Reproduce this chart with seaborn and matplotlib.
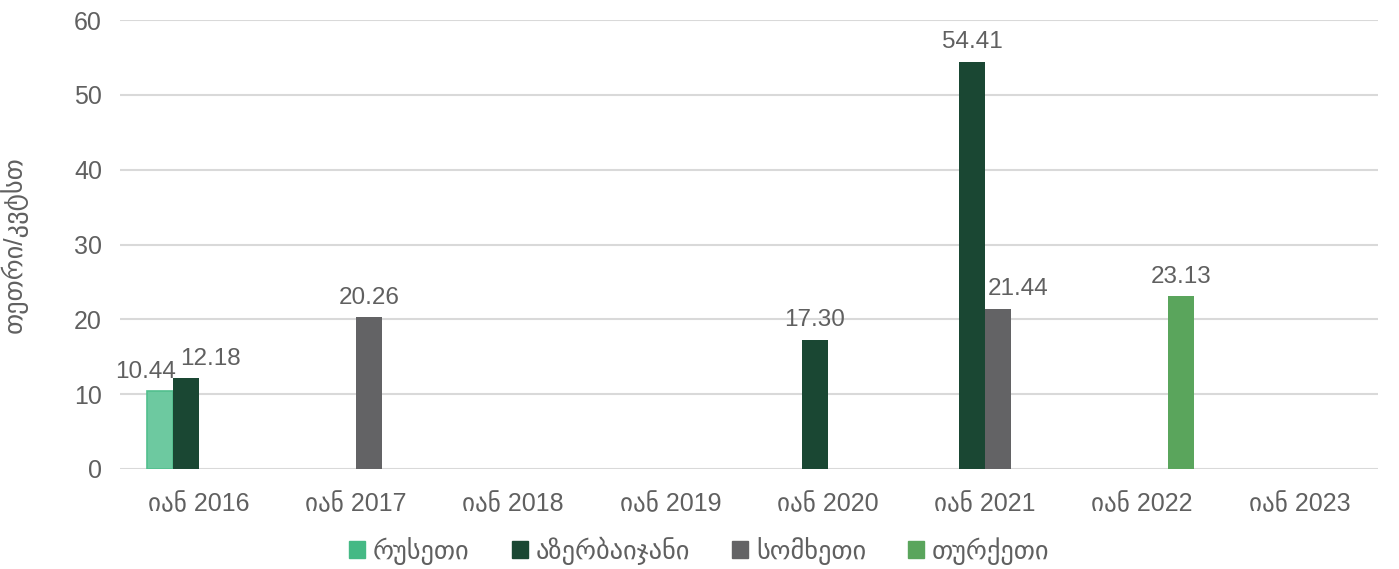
import matplotlib
matplotlib.use("Agg")
import matplotlib.pyplot as plt
import seaborn as sns
import numpy as np
import pandas as pd

categories = ["იან 2016", "იან 2017", "იან 2018", "იან 2019",
              "იან 2020", "იან 2021", "იან 2022", "იან 2023"]
series_names = ["რუსეთი", "აზერბაიჯანი", "სომხეთი", "თურქეთი"]
russia = [10.44, np.nan, np.nan, np.nan, np.nan, np.nan, np.nan, np.nan]
azerbaijan = [12.18, np.nan, np.nan, np.nan, 17.30, 54.41, np.nan, np.nan]
armenia = [np.nan, 20.26, np.nan, np.nan, np.nan, 21.44, np.nan, np.nan]
turkey = [np.nan, np.nan, np.nan, np.nan, np.nan, np.nan, 23.13, np.nan]
y_ticks = [0, 10, 20, 30, 40, 50, 60]
y_label = "თეთრი/კვტსთ"

colors = ["#6dc9a0", "#1a4733", "#636365", "#5aa55c"]
legend_colors = ["#45b985", "#1a4733", "#636365", "#5aa55c"]

sns.set_theme(style="white")
plt.rcParams["font.family"] = ["Liberation Sans", "DejaVu Sans"]

rows = []
for name, vals in zip(series_names, [russia, azerbaijan, armenia, turkey]):
    for cat, v in zip(categories, vals):
        rows.append({"month": cat, "country": name, "value": v})
df = pd.DataFrame(rows)

fig = plt.figure(figsize=(13.99, 5.69), dpi=100)
ax = fig.add_axes([120 / 1399, 100 / 569, 1258 / 1399, 449 / 569])

sns.barplot(data=df.fillna(0), x="month", y="value", hue="country",
            order=categories, hue_order=series_names, palette=colors,
            width=0.66, dodge=True, saturation=1, errorbar=None,
            linewidth=0, ax=ax, legend=False)

text_color = "#606060"
label_offsets = {(0, 0): -14, (1, 0): 25, (2, 5): 20}
for si, cont in enumerate(ax.containers):
    vals = [russia, azerbaijan, armenia, turkey][si]
    for ci, patch in enumerate(cont.patches):
        v = vals[ci]
        if np.isnan(v):
            patch.set_visible(False)
            continue
        if si == 0:
            patch.set_edgecolor("#52bf8d")
            patch.set_linewidth(1.2)
        xc = patch.get_x() + patch.get_width() / 2
        dx = label_offsets.get((si, ci), 0)
        ax.annotate(f"{v:.2f}", (xc, v), xytext=(dx * 0.72, 6),
                    textcoords="offset points", ha="center", va="bottom",
                    fontsize=17.5, color=text_color)

ax.set_ylim(0, 60)
ax.set_yticks(y_ticks)
ax.set_xlim(-0.5, len(categories) - 0.5)
ax.yaxis.grid(True, color="#d9d9d9", linewidth=1.5)
ax.set_axisbelow(True)
for s in ax.spines.values():
    s.set_visible(False)
ax.tick_params(axis="both", length=0, labelsize=18, colors=text_color)
ax.tick_params(axis="x", pad=17)
ax.tick_params(axis="y", pad=13)
ax.set_xlabel("")
ax.set_ylabel(y_label, fontsize=19, color=text_color, labelpad=33)

handles = [plt.Rectangle((0, 0), 1, 1, color=c) for c in legend_colors]
fig.legend(handles, series_names, loc="center", bbox_to_anchor=(0.5, 18 / 569),
           ncol=4, frameon=False, fontsize=19, handlelength=0.6,
           handleheight=0.6, handletextpad=0.3, columnspacing=1.6,
           labelcolor=text_color)

fig.savefig("out.png", dpi=100)
